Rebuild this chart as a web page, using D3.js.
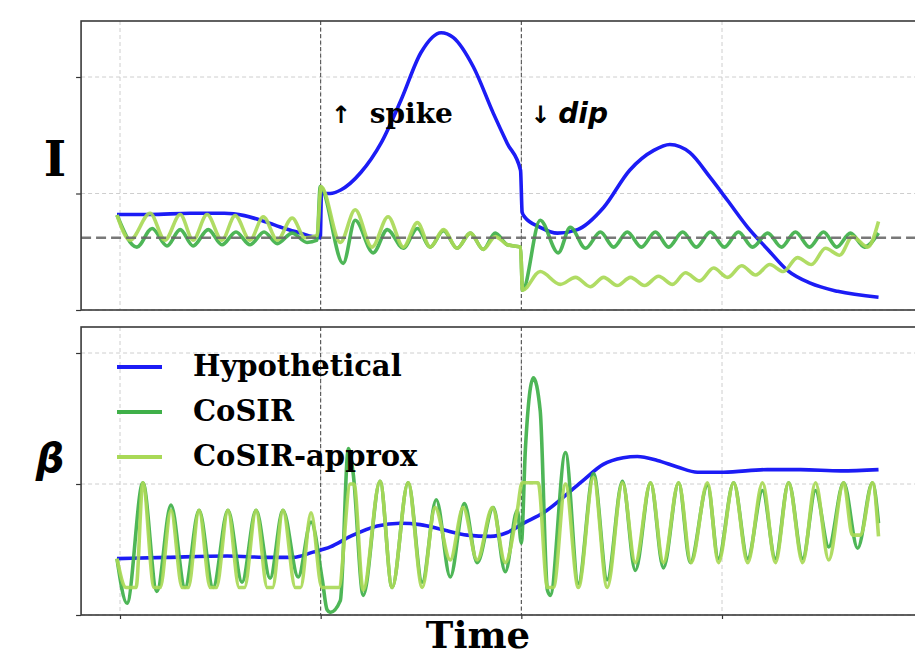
<!DOCTYPE html>
<html>
<head>
<meta charset="utf-8">
<script src="https://cdn.jsdelivr.net/npm/d3@7"></script>
<style>
  body { margin: 0; background: #fff; }
  svg { display: block; }
</style>
</head>
<body>
<script>
// ---- data: [time, value] ----
const timeTicks = [0, 50, 100, 150];
const eventTimes = [50, 100];
const valueTicks = [0, 1, 2];
const baselineI = 0.62;

const hypoI = [[-0.75,0.82],[7.5,0.82],[17.5,0.83],[26,0.83],[31,0.81],[36,0.76],[41,0.70],[45,0.66],[48,0.63],[49.9,0.62],[50.2,1.0],[52.4,1.0],[55,1.03],[60,1.18],[65,1.43],[70,1.80],[75,2.21],[80,2.38],[83,2.34],[88,2.09],[93,1.69],[96.5,1.43],[99.8,1.2],[100.2,0.84],[100.8,0.8],[104.7,0.71],[109,0.66],[114,0.69],[120.5,0.88],[127,1.2],[133,1.37],[137,1.42],[142,1.35],[147,1.14],[151.4,0.94],[156.4,0.71],[161.4,0.52],[166.3,0.34],[172,0.23],[178.8,0.16],[189,0.11]];

const cosirI = [[-0.75,0.815],[4.2,0.54],[8,0.70],[11.7,0.55],[15,0.69],[18.2,0.55],[22,0.69],[25.4,0.56],[28.9,0.67],[32.4,0.56],[35.9,0.67],[39.2,0.57],[42.9,0.66],[46.6,0.58],[49.1,0.60],[49.9,1.06],[55.6,0.40],[58.6,0.77],[63.1,0.49],[66.6,0.69],[70.6,0.53],[74.1,0.70],[77.3,0.54],[80.6,0.68],[84,0.53],[87.3,0.66],[90.5,0.52],[93.5,0.66],[96.5,0.56],[99.8,0.54],[100.3,0.17],[104.7,0.77],[109.2,0.49],[112.2,0.71],[116,0.53],[119.7,0.67],[123,0.54],[126.4,0.67],[129.9,0.54],[133.4,0.67],[136.7,0.54],[140.2,0.67],[143.6,0.54],[147.1,0.67],[150.6,0.54],[154.1,0.67],[157.6,0.54],[161.4,0.66],[164.8,0.54],[168.3,0.67],[171.8,0.54],[175.3,0.67],[178.6,0.54],[182,0.66],[185.5,0.54],[189,0.66]];

const approxI = [[-0.75,0.815],[2.5,0.60],[7.5,0.83],[11.2,0.60],[15,0.82],[18.2,0.60],[21.7,0.82],[25.4,0.60],[28.7,0.81],[32.4,0.60],[35.7,0.80],[39.2,0.60],[42.9,0.79],[46.1,0.62],[49.1,0.64],[50.1,1.06],[54.9,0.58],[58.6,0.86],[62.8,0.54],[66.8,0.80],[70.6,0.54],[74.1,0.75],[77.3,0.54],[80.6,0.69],[84,0.53],[87.3,0.66],[90.5,0.52],[93.5,0.63],[96.5,0.56],[99.8,0.54],[100.3,0.17],[104.7,0.33],[109.7,0.22],[113.5,0.28],[117.2,0.20],[120.5,0.28],[123.9,0.21],[127.2,0.28],[130.7,0.21],[134.2,0.29],[137.7,0.22],[140.9,0.32],[144.4,0.25],[147.9,0.36],[151.4,0.28],[154.9,0.38],[158.4,0.30],[161.9,0.39],[165.3,0.33],[168.8,0.45],[172.3,0.39],[175.8,0.53],[179.3,0.47],[182.5,0.63],[186.3,0.54],[189,0.76]];

const hypoB = [[-0.75,0.43],[11.7,0.44],[26.7,0.45],[37.4,0.44],[43.1,0.44],[48.1,0.48],[52.4,0.52],[57.4,0.60],[64.1,0.68],[69.8,0.70],[74.8,0.69],[80.5,0.65],[86.5,0.61],[92.3,0.60],[96.5,0.63],[100.5,0.70],[105.5,0.78],[110.5,0.90],[115.5,1.03],[120.4,1.15],[125.4,1.20],[128.9,1.21],[133.9,1.18],[138.9,1.13],[143.9,1.09],[150.4,1.09],[161.3,1.11],[169.6,1.11],[179.6,1.10],[189,1.11]];

const cosirB = [[-0.75,0.43],[1.75,0.09],[5.7,1.01],[9.2,0.18],[12.7,0.84],[16.2,0.21],[19.7,0.80],[23.2,0.21],[26.9,0.80],[30.4,0.25],[33.9,0.80],[37.4,0.28],[40.6,0.80],[44.4,0.29],[47.6,0.71],[50.4,0.27],[51.6,0.04],[52.4,0.02],[54.9,0.11],[56.9,1.27],[58.1,1.08],[60.6,0.15],[64.8,1.02],[67.8,0.21],[71.8,1.01],[75.3,0.25],[78.8,0.88],[82.3,0.29],[85.8,0.85],[89,0.40],[93,0.82],[96,0.33],[99,0.80],[100,0.55],[101,1.26],[103,1.81],[104.7,1.56],[106.5,0.19],[107.2,0.15],[111,1.24],[114.2,0.24],[118,1.08],[121.4,0.27],[125.2,1.02],[128.4,0.34],[132.2,1.01],[135.4,0.36],[139.2,1.01],[142.1,0.40],[146.4,0.99],[149.1,0.43],[152.9,1.01],[156.4,0.43],[160.1,0.95],[163.3,0.43],[166.6,1.01],[170.1,0.43],[173.3,0.95],[176.6,0.52],[180.3,1.01],[183.8,0.51],[187.5,1.01],[189,0.70]];

const approxB = [[-0.75,0.43],[1.5,0.21],[4.0,0.21],[5.7,1.01],[8.5,0.21],[10,0.21],[12.7,0.80],[15.5,0.21],[17,0.21],[19.7,0.80],[22.5,0.21],[24,0.21],[26.9,0.80],[29.7,0.21],[31,0.21],[33.9,0.80],[36.7,0.21],[38,0.21],[40.6,0.80],[43.7,0.21],[45,0.21],[47.6,0.78],[50.3,0.21],[54.5,0.21],[57.4,1.0],[58.3,1.0],[60.6,0.19],[64.8,1.02],[67.8,0.21],[71.8,1.01],[75.3,0.21],[78.5,0.82],[82.3,0.42],[85.5,0.82],[89,0.42],[92.8,0.82],[96,0.40],[99,0.80],[100.2,1.01],[104.2,1.01],[106.5,0.21],[108,0.21],[111,1.0],[114.2,0.21],[118,1.05],[121.4,0.21],[125.2,1.01],[128.4,0.40],[132.2,1.01],[135.4,0.40],[139.2,1.01],[142.3,0.40],[146.4,1.01],[149.1,0.40],[152.9,1.01],[156.4,0.40],[160.1,1.01],[163.3,0.40],[166.6,1.01],[170.1,0.40],[173.3,1.01],[176.6,0.42],[180.3,1.01],[182.5,0.61],[184.5,0.61],[187.5,1.01],[189,0.60]];

const seriesNames = ["Hypothetical", "CoSIR", "CoSIR-approx"];
const seriesColors = ["#1c1cf5", "#3fb049", "#a9d957"];

// ---- layout ----
const W = 915, H = 656;
const svg = d3.select("body").append("svg").attr("width", W).attr("height", H);

const x = d3.scaleLinear().domain([0, 150]).range([120, 722]);
const xLo = -9.7, xHi = 200;

const panels = [
  {id: "pI", y: d3.scaleLinear().domain([0, 2]).range([310, 77]), top: 21, bottom: 310,
   data: [hypoI, cosirI, approxI], ref: baselineI},
  {id: "pB", y: d3.scaleLinear().domain([0, 2]).range([615, 353]), top: 327, bottom: 615,
   data: [hypoB, cosirB, approxB], ref: null}
];

panels.forEach((p, pi) => {
  let g = svg.append("g");
  let left = x(xLo), right = x(xHi);

  svg.append("clipPath").attr("id", "clip-" + p.id)
    .append("rect").attr("x", left).attr("y", p.top)
    .attr("width", right - left).attr("height", p.bottom - p.top);

  // grid
  g.append("g").selectAll("line").data(valueTicks).enter().append("line")
    .attr("x1", left).attr("x2", right)
    .attr("y1", d => p.y(d)).attr("y2", d => p.y(d))
    .attr("stroke", "#c8c8c8").attr("stroke-width", 0.9).attr("stroke-dasharray", "4,3");
  g.append("g").selectAll("line").data(timeTicks).enter().append("line")
    .attr("x1", d => x(d)).attr("x2", d => x(d))
    .attr("y1", p.top).attr("y2", p.bottom)
    .attr("stroke", "#c8c8c8").attr("stroke-width", 0.9).attr("stroke-dasharray", "4,3");

  // event markers
  g.append("g").selectAll("line").data(eventTimes).enter().append("line")
    .attr("x1", d => x(d)).attr("x2", d => x(d))
    .attr("y1", p.top).attr("y2", p.bottom)
    .attr("stroke", "#444").attr("stroke-width", 1).attr("stroke-dasharray", "4,2.5");

  let line = d3.line().x(d => x(d[0])).y(d => p.y(d[1])).curve(d3.curveMonotoneX);
  let lines = g.append("g").attr("clip-path", "url(#clip-" + p.id + ")");
  p.data.forEach((s, i) => {
    lines.append("path").datum(s).attr("d", line)
      .attr("fill", "none").attr("stroke", seriesColors[i])
      .attr("stroke-width", 3.6).attr("stroke-linejoin", "round")
      .attr("opacity", i == 0 ? 1 : 0.92);
  });

  if (p.ref !== null) {
    lines.append("line").attr("x1", left).attr("x2", right)
      .attr("y1", p.y(p.ref)).attr("y2", p.y(p.ref))
      .attr("stroke", "#6a6a6a").attr("stroke-width", 2.6)
      .attr("stroke-dasharray", "10,5").attr("opacity", 0.9);
  }

  // left axis ticks, no labels
  g.append("g").attr("transform", "translate(" + left + ",0)")
    .call(d3.axisLeft(p.y).tickValues(valueTicks).tickFormat("").tickSize(5))
    .call(a => a.select(".domain").remove())
    .call(a => a.selectAll("line").attr("stroke", "#333").attr("stroke-width", 1.2));

  if (pi == 1) {
    g.append("g").attr("transform", "translate(0," + p.bottom + ")")
      .call(d3.axisBottom(x).tickValues(timeTicks).tickFormat("").tickSize(4))
      .call(a => a.select(".domain").remove())
      .call(a => a.selectAll("line").attr("stroke", "#333").attr("stroke-width", 1.2));
  }

  // frame
  g.append("rect").attr("x", left).attr("y", p.top)
    .attr("width", right - left).attr("height", p.bottom - p.top)
    .attr("fill", "none").attr("stroke", "#3a3a3a").attr("stroke-width", 1.6);
});

// ---- labels ----
svg.append("text").attr("x", 55).attr("y", 176).attr("text-anchor", "middle")
  .attr("font-family", "DejaVu Serif").attr("font-weight", "bold").attr("font-size", 48)
  .text("I");
svg.append("text").attr("x", 50).attr("y", 472).attr("text-anchor", "middle")
  .attr("font-family", "DejaVu Sans").attr("font-weight", "bold").attr("font-style", "italic")
  .attr("font-size", 40).text("β");
svg.append("text").attr("x", 478).attr("y", 648).attr("text-anchor", "middle")
  .attr("font-family", "DejaVu Serif").attr("font-weight", "bold").attr("font-size", 37)
  .text("Time");

// annotations
svg.append("text").attr("x", x(eventTimes[0]) + 10).attr("y", 123)
  .attr("font-family", "DejaVu Sans").attr("font-weight", "bold").attr("font-size", 24).text("↑");
svg.append("text").attr("x", x(eventTimes[0]) + 49).attr("y", 123)
  .attr("font-family", "DejaVu Serif").attr("font-weight", "bold").attr("font-size", 28).text("spike");
svg.append("text").attr("x", x(eventTimes[1]) + 9).attr("y", 123)
  .attr("font-family", "DejaVu Sans").attr("font-weight", "bold").attr("font-size", 24).text("↓");
svg.append("text").attr("x", x(eventTimes[1]) + 37).attr("y", 123)
  .attr("font-family", "DejaVu Sans").attr("font-weight", "bold").attr("font-style", "italic")
  .attr("font-size", 28).text("dip");

// legend
let legend = svg.append("g").selectAll("g").data(seriesNames).enter().append("g")
  .attr("transform", (d, i) => "translate(117," + (367 + i * 45) + ")");
legend.append("line").attr("x1", 0).attr("x2", 45)
  .attr("stroke", (d, i) => seriesColors[i]).attr("stroke-width", 3.8);
legend.append("text").attr("x", 76).attr("y", 9)
  .attr("font-family", "DejaVu Serif").attr("font-weight", "bold").attr("font-size", 29)
  .text(d => d);
</script>
</body>
</html>
